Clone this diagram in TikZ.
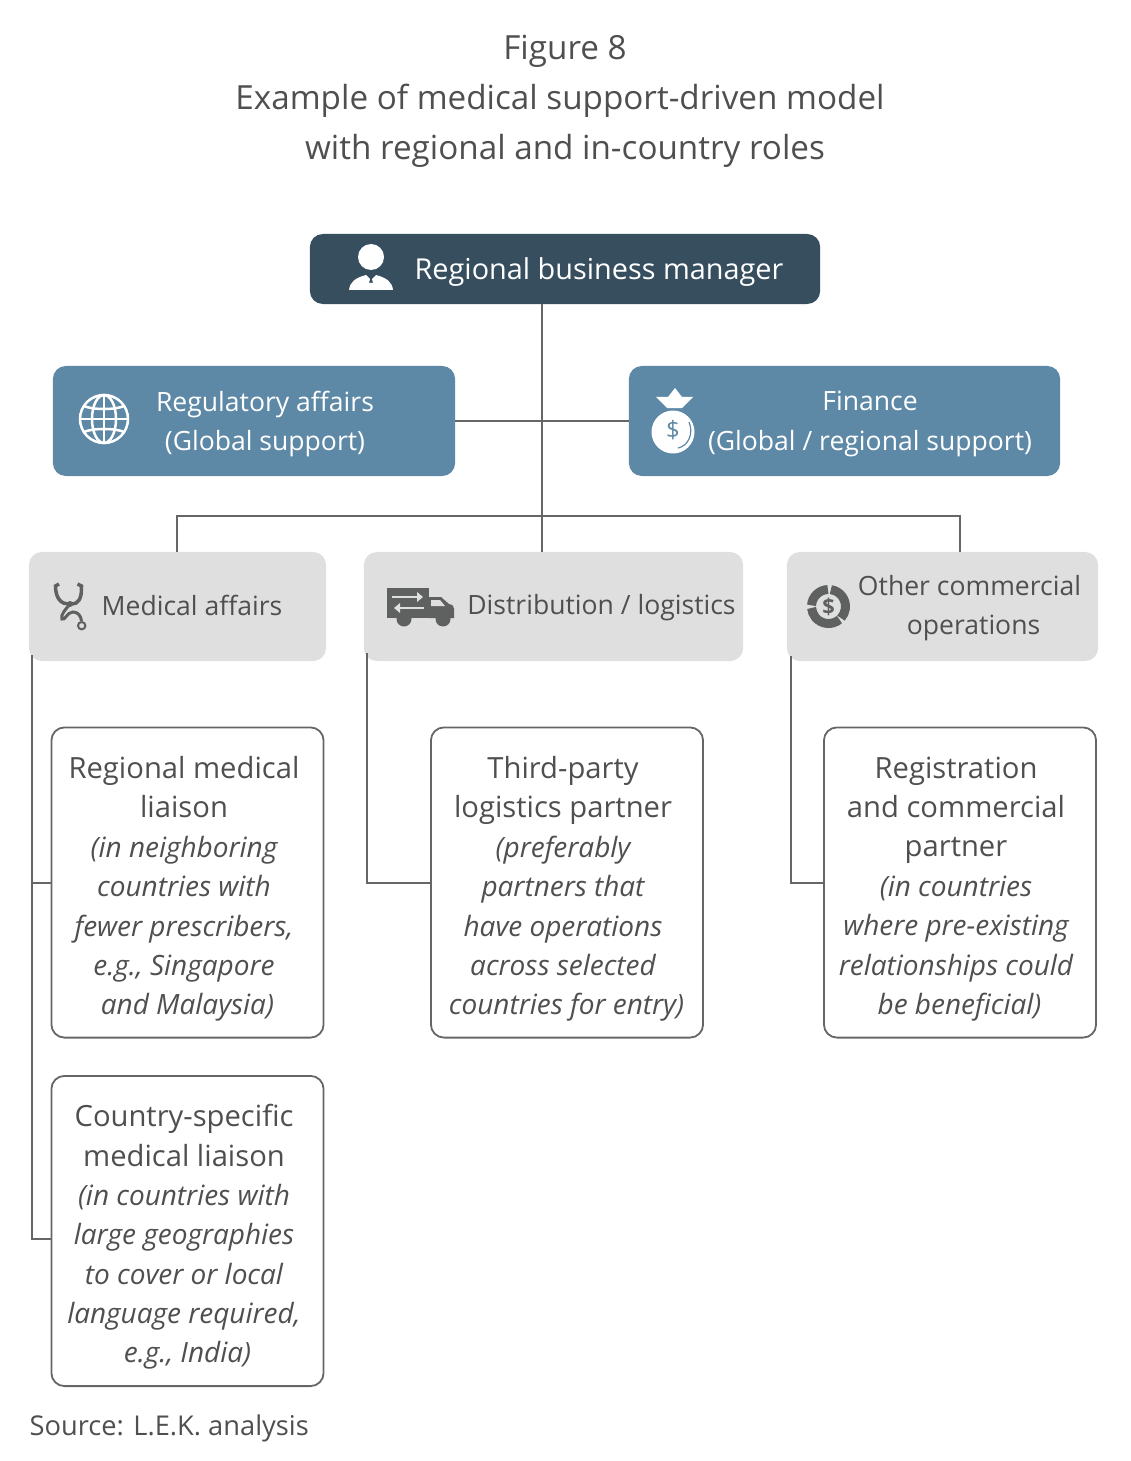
\documentclass[tikz,border=0pt]{standalone}
\usepackage{fontspec}
\setmainfont{Open Sans}
\usetikzlibrary{arrows.meta,positioning,calc,shapes}

\definecolor{navy}{HTML}{374E5E}
\definecolor{steel}{HTML}{5D89A6}
\definecolor{pale}{HTML}{DFDFDF}
\definecolor{ink}{HTML}{4F4F4F}
\definecolor{wire}{HTML}{666666}
\definecolor{icongray}{HTML}{5F6060}

\tikzset{
	box/.style={rectangle,rounded corners=0.13cm,inner sep=0pt,outer sep=0pt},
	darkbox/.style={box,fill=navy,minimum height=0.70cm},
	bluebox/.style={box,fill=steel,minimum height=1.10cm},
	greybox/.style={box,fill=pale,minimum height=1.09cm},
	whitebox/.style={box,draw=wire,line width=0.018cm,fill=white,minimum width=2.72cm,minimum height=3.10cm},
	wiring/.style={draw=wire,line width=0.02cm},
	title/.style={text=ink,align=center,font=\fontsize{9.45}{14.2}\selectfont},
	lab/.style={text=ink,align=center,font=\fontsize{7.55}{11.3}\selectfont},
	partner/.style={text=ink,align=center,font=\fontsize{8.3}{11.2}\selectfont},
	whitelab/.style={lab,text=white},
}
\newcommand{\nt}[1]{{\fontsize{7.95}{11.2}\selectfont\itshape #1}}
\newcommand{\ntend}[1]{\hspace*{0.07cm}\nt{#1}}

\begin{document}
\begin{tikzpicture}[x=0.01cm,y=-0.01cm]
\useasboundingbox (0,0) rectangle (1130,1461);

% title
\node[title] (fig) at (565,101) {Figure 8\\\hspace*{-0.1cm}Example of medical support-driven model\\with regional and in-country roles};

% top row
\node[darkbox,minimum width=5.10cm] (mgr) at (565,269) {};
\node[whitelab,font=\fontsize{8.2}{11}\selectfont] (mgrlab) at (599,272) {Regional business manager};

% support boxes
\node[bluebox,minimum width=4.02cm] (reg) at (254,421) {};
\node[whitelab] (reglab) at (265,424) {Regulatory affairs\\(Global support)};
\node[bluebox,minimum width=4.31cm] (fin) at (844.5,421) {};
\node[whitelab] (finlab) at (870,424) {Finance\\(Global / regional support)};

% functions
\node[greybox,minimum width=2.97cm] (med) at (177.5,606.5) {};
\node[lab] (medlab) at (192,605) {Medical affairs};
\node[greybox,minimum width=3.79cm] (dist) at (553.5,606.5) {};
\node[lab] (distlab) at (601.5,608) {Distribution / logistics};
\node[greybox,minimum width=3.11cm] (other) at (942.5,606.5) {};
\node[lab] (otherlab) at (969.5,608) {Other commercial\\\hspace*{0.08cm}operations};

% partners
\node[whitebox] (rml) at (187.5,882.5) {};
\node[partner] (rmllab) at (184,889) {Regional medical\\liaison\\\nt{(in neighboring}\\\nt{countries with}\\\nt{fewer prescribers,}\\\nt{e.g., Singapore}\\\ntend{and Malaysia)}};
\node[whitebox] (csl) at (187.5,1231) {};
\node[partner] (csllab) at (184,1237) {Country-specific\\medical liaison\\\nt{(in countries with}\\\nt{large geographies}\\\nt{to cover or local}\\\nt{language required,}\\\ntend{e.g., India)}};
\node[whitebox] (tpl) at (567,882.5) {};
\node[partner] (tpllab) at (563,889) {Third-party\\logistics partner\\\nt{(preferably}\\\nt{partners that}\\\nt{have operations}\\\nt{across selected}\\\ntend{countries for entry)}};
\node[whitebox] (rcp) at (960,882.5) {};
\node[partner] (rcplab) at (956,889) {Registration\\and commercial\\partner\\\nt{(in countries}\\\nt{where pre-existing}\\\nt{relationships could}\\\ntend{be beneficial)}};

% source
\node[lab,anchor=west,inner sep=0pt,font=\fontsize{7.75}{11}\selectfont] (src) at (29,1428) {Source: L.E.K. analysis};

% connectors
\coordinate (trunk) at (542,516);
\coordinate (busleft) at (177,516);
\coordinate (busright) at (960,516);
\coordinate (medbus) at (32,883);
\coordinate (medend) at (32,1239);
\coordinate (distbus) at (367,883);
\coordinate (otherbus) at (791,883);
\draw[wiring] (mgr.south -| trunk) -- (dist.north -| trunk);
\draw[wiring] (reg.east) -- (fin.west);
\draw[wiring] (med.north -| busleft) -- (busleft) -- (busright) -- (other.north -| busright);
\draw[wiring] (med.south -| medend) ++(0,-6) -- (medend) -- (csl.west |- medend);
\draw[wiring] (medbus) -- (rml.west |- medbus);
\draw[wiring] (dist.south -| distbus) ++(0,-8) -- (distbus) -- (tpl.west |- distbus);
\draw[wiring] (other.south -| otherbus) ++(0,-5) -- (otherbus) -- (rcp.west |- otherbus);

% person
\fill[white] (371,257) circle (13);
\fill[white] (349,290) .. controls (350,282) and (355,278) .. (366,275) -- (370,279) -- (369,283) -- (373,283) -- (372,279) -- (376,275) .. controls (387,278) and (392,282) .. (393,290) -- cycle;

% globe
\begin{scope}[draw=white,line width=0.025cm]
	\draw (104,419) circle (24);
	\draw (104,395) -- (104,443);
	\draw (80,419) -- (128,419);
	\draw (104,419) ellipse (12 and 24);
	\draw (84,406) .. controls (92,410) and (116,410) .. (124,406);
	\draw (84,432) .. controls (92,428) and (116,428) .. (124,432);
\end{scope}

% money bag
\fill[white] (656,397) -- (668,397) -- (675,388) -- (682,397) -- (693,397) -- (682,408) -- (667,408) -- cycle;
\fill[white] (673,432) circle (21.5);
\draw[steel,line width=0.012cm] (689,422) .. controls (694,434) and (688,446) .. (678,448);
\node[text=steel,font=\fontsize{6.8}{8}\selectfont,inner sep=0pt] (bagsign) at (673,430) {\$};

% stethoscope
\draw[icongray,line width=0.035cm] (59,584) -- (55.5,586) .. controls (55.5,599) and (62,604) .. (68,604) -- (72,604) .. controls (78,604) and (82,599) .. (81.5,586) -- (77.5,584);
\fill[icongray] (70,604) circle (3);
\draw[icongray,line width=0.03cm] (70,604) .. controls (66,609) and (60,615) .. (62,619) .. controls (65,621) and (67,612) .. (73,612) .. controls (78,612) and (81,616) .. (81.5,621);
\draw[icongray,line width=0.02cm] (81.7,625.7) circle (3.7);

% truck
\fill[icongray] (387,588) rectangle (429,618);
\fill[icongray] (429,597) -- (441,597) -- (449,604) .. controls (453,605) and (454,606) .. (454,609) -- (454,618) -- (429,618) -- cycle;
\fill[icongray] (404,619) circle (7.5);
\fill[icongray] (443,619) circle (7.5);
\fill[pale] (431,600) -- (440,600) -- (445,606) -- (431,606) -- cycle;
\draw[pale,line width=0.02cm] (392,597) -- (418,597);
\fill[pale] (417,592) -- (423,597) -- (417,602) -- cycle;
\draw[pale,line width=0.02cm] (399,608) -- (424,608);
\fill[pale] (400,603) -- (394,608) -- (400,613) -- cycle;

% donut
\coordinate (donut) at (828.5,606.5);
\begin{scope}[icongray,line width=0.09cm]
	\draw (donut) ++(-82:17) arc (-82:43:17);
	\draw (donut) ++(50:17) arc (50:175:17);
	\draw (donut) ++(184:17) arc (184:268:17);
\end{scope}
\node[text=icongray,font=\bfseries\fontsize{6.2}{8}\selectfont,inner sep=0pt] (donutsign) at (donut) {\$};
\end{tikzpicture}
\end{document}
